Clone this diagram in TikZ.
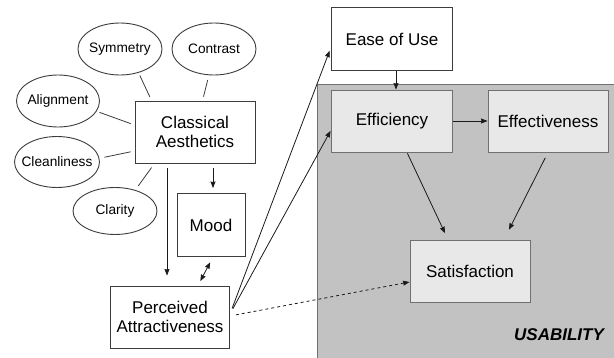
\documentclass[tikz,border=0pt]{standalone}
\usepackage{fontspec}
\setmainfont{Liberation Sans}
\usepackage{tikz}
\usepackage{xcolor}
\usetikzlibrary{arrows.meta,positioning,shapes.geometric,calc}
\definecolor{ink}{HTML}{1A1A1A}
\definecolor{edgegray}{HTML}{707070}
\definecolor{panelgray}{HTML}{C2C2C2}
\definecolor{boxgray}{HTML}{E8E8E8}
\tikzset{
  box/.style={draw=ink!85,fill=white,line width=0.9pt,
              minimum width=121pt,minimum height=62pt,
              align=center,inner sep=2pt,
              font=\fontsize{17}{19.5}\selectfont},
  graybox/.style={box,draw=edgegray,fill=boxgray},
  trait/.style={ellipse,draw=ink!85,fill=white,line width=0.9pt,
                minimum width=84pt,minimum height=52pt,inner sep=-8pt,
                font=\fontsize{13.7}{16}\selectfont},
  link/.style={line width=0.8pt,draw=ink!85},
  arr/.style={-{Stealth[length=6.5pt,width=5pt,inset=0.5pt]},
              line width=0.8pt,draw=ink},
  twoarr/.style={{Stealth[length=6.5pt,width=5pt,inset=0.5pt]}-{Stealth[length=6.5pt,width=5pt,inset=0.5pt]},
                 line width=0.8pt,draw=ink},
  tagtext/.style={font=\fontsize{17}{19.5}\selectfont\bfseries\itshape}
}

\begin{document}
\begin{tikzpicture}[x=1pt,y=-1pt]
    \path[use as bounding box] (0,0) rectangle (614,358);
    % usability panel
    \fill[panelgray] (317,85) rectangle (614,358);
    \draw[edgegray,line width=1pt] (317,358) -- (317,85) -- (614,85);
    \node[tagtext] (usab) at (559,335) {USABILITY};

    % aesthetic qualities
    \node[trait] (sym) at (120,49) {Symmetry};
    \node[trait] (con) at (214,49) {Contrast};
    \node[trait,minimum width=83pt] (ali) at (58,101) {Alignment};
    \node[trait,minimum width=85pt,minimum height=51pt] (cle) at (57,162) {Cleanliness};
    \node[trait,minimum height=47pt] (cla) at (115,211) {Clarity};

    \node[box,minimum width=120pt] (ca) at (195,132) {Classical\\Aesthetics};
    \node[box,minimum width=68pt,minimum height=63pt] (mood) at (211,225) {Mood};
    \node[box,minimum width=119pt] (pa) at (170,317) {Perceived\\Attractiveness};

    % usability side
    \node[box,minimum height=63pt] (eou) at (392,39) {Ease of Use};
    \node[graybox] (eff) at (392,121) {Efficiency};
    \node[graybox,minimum width=120pt] (effv) at (548,121) {Effectiveness};
    \node[graybox,minimum width=120pt] (sat) at (470,271) {Satisfaction};

    % plain links
    \draw[link,shorten <=3pt,shorten >=4pt] (sym.-52) -- ([xshift=17pt]ca.north west);
    \draw[link,shorten <=5pt,shorten >=4pt] (con.-101) -- ([xshift=68pt]ca.north west);
    \draw[link,shorten <=3pt,shorten >=4pt] (ali.-15) -- ([yshift=7pt]ca.west);
    \draw[link,shorten <=5pt,shorten >=4pt] (cle.5) -- ([yshift=-19pt]ca.west);
    \draw[link,shorten <=5pt,shorten >=5pt] (cla.46) -- ([xshift=20pt]ca.south west);

    % arrows
    \draw[arr,shorten <=5pt,shorten >=5pt] ([xshift=18pt]ca.south) -- ([xshift=2pt]mood.north);
    \draw[arr,shorten <=5pt,shorten >=10pt] ([xshift=-28pt]ca.south) -- ([xshift=-3pt]pa.north);
    \draw[twoarr,shorten <=6pt,shorten >=5pt] ([xshift=2pt]mood.south) -- ([xshift=28pt]pa.north);
    \draw[arr,shorten <=6pt,shorten >=4pt] ([yshift=3pt]pa.east) -- ([yshift=-8pt]eou.west);
    \draw[arr,shorten <=6pt,shorten >=1pt] ([yshift=3pt]pa.east) -- ([yshift=-9pt]eff.west);
    \draw[arr,dashed,shorten <=6pt] ([yshift=1pt]pa.east) -- ([yshift=-11pt]sat.west);
    \draw[arr] ([xshift=4pt]eou.south) -- ([xshift=4pt]eff.north);
    \draw[arr] (eff.east) -- (effv.west);
    \draw[arr,shorten <=1pt,shorten >=7pt] ([xshift=15pt]eff.south) -- ([xshift=-22pt]sat.north);
    \draw[arr,shorten <=6pt,shorten >=11pt] (effv.south) -- ([xshift=34pt]sat.north);
  \end{tikzpicture}
\end{document}
